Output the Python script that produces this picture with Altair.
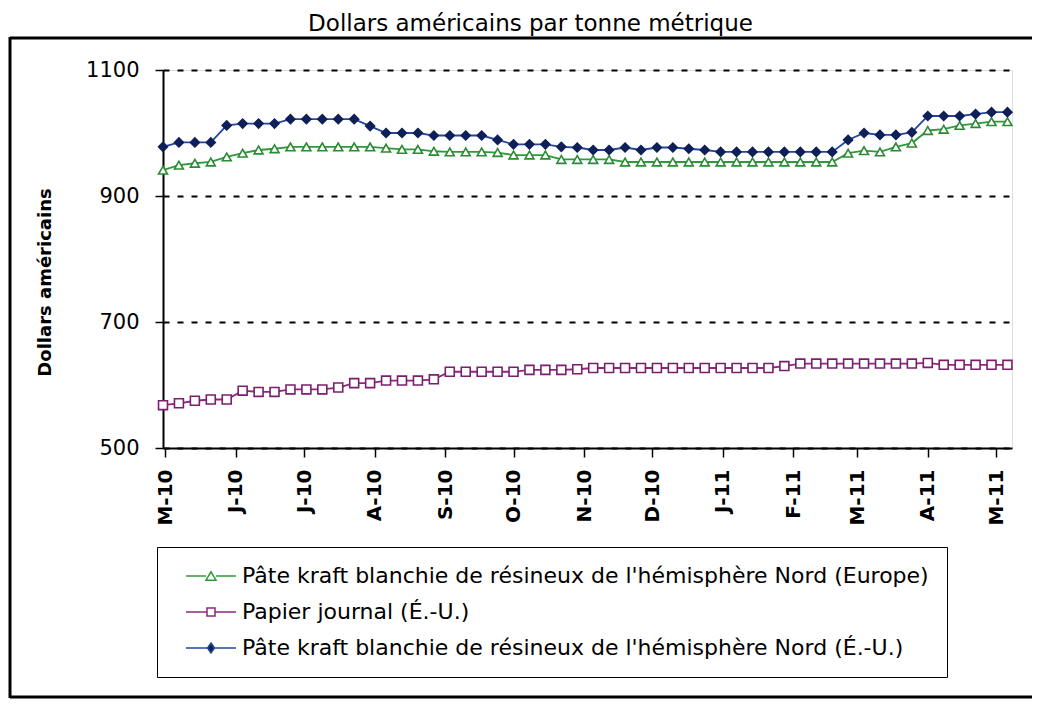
import altair as alt
import pandas as pd

# ---- data (weekly, 30 Apr 2010 -> 6 May 2011) ----
start_date = "2010-04-30"
n_weeks = 54

series_names = [
    "Pâte kraft blanchie de résineux de l'hémisphère Nord (Europe)",
    "Papier journal (É.-U.)",
    "Pâte kraft blanchie de résineux de l'hémisphère Nord (É.-U.)",
]

nbsk_europe = [941, 949, 952, 954, 962, 968, 973, 975, 978, 978,
               978, 978, 978, 978, 976, 974, 974, 971, 970, 970,
               970, 969, 965, 965, 965, 958, 958, 958, 958, 954,
               954, 954, 954, 954, 954, 954, 954, 954, 954, 954,
               954, 954, 954, 968, 972, 970, 978, 984, 1004, 1006,
               1012, 1015, 1018, 1018]

newsprint_us = [568, 571, 575, 577, 577, 591, 589, 589, 593, 593,
                593, 596, 603, 603, 607, 607, 607, 609, 621, 621,
                621, 621, 621, 624, 624, 624, 625, 627, 627, 627,
                627, 627, 627, 627, 627, 627, 627, 627, 627, 630,
                634, 634, 634, 634, 634, 634, 634, 634, 635, 632,
                632, 632, 632, 632]

nbsk_us = [978, 985, 985, 985, 1012, 1015, 1015, 1015, 1022, 1022,
           1022, 1022, 1022, 1011, 1000, 1000, 1000, 996, 996, 996,
           996, 989, 982, 982, 982, 978, 977, 973, 973, 977,
           973, 977, 977, 975, 973, 970, 970, 970, 970, 970,
           970, 970, 970, 989, 1000, 997, 997, 1001, 1027, 1027,
           1027, 1030, 1033, 1033]

month_initials = ["J", "F", "M", "A", "M", "J", "J", "A", "S", "O", "N", "D"]
y_ticks = [500, 700, 900, 1100]

line_colors = ["#2f9a3c", "#8a2a7c", "#2446a0"]
marker_strokes = ["#2a8a36", "#7a1f6c", "#0f1f58"]
marker_fills = ["white", "white", "#0f1f58"]
marker_shapes = ["triangle-up", "square", "diamond"]
legend_fills = ["white", "white", "#0f1f58"]
# legend glyphs: a 5-unit line starting at the symbol centre with the marker in its middle
legend_paths = [
    "M0,0L2.0,0M3.0,0L5,0M2.0,0.42L2.5,-0.42L3.0,0.42Z",
    "M0,0L2.1,0M2.9,0L5,0M2.1,-0.4L2.9,-0.4L2.9,0.4L2.1,0.4Z",
    "M0,0L2.15,0M2.85,0L5,0M2.5,-0.5L2.85,0L2.5,0.5L2.15,0Z",
]

dates = pd.date_range(start_date, periods=n_weeks, freq="7D")
rows = []
for name, vals in zip(series_names, [nbsk_europe, newsprint_us, nbsk_us]):
    for d, v in zip(dates, vals):
        rows.append({"date": d.strftime("%Y-%m-%d"), "series": name, "value": v})
df = pd.DataFrame(rows)

FONT = "DejaVu Sans"

month_values = [alt.DateTime(year=2010 + (4 + k) // 12, month=(4 + k) % 12 + 1, date=1, utc=True)
                for k in range(13)]

x_enc = alt.X(
    "date:T",
    scale=alt.Scale(type="utc",
                    domain=[alt.DateTime(year=2010, month=4, date=30, utc=True),
                            alt.DateTime(year=2011, month=5, date=8, utc=True)]),
    axis=alt.Axis(
        values=month_values,
        labelExpr="%s[utcmonth(datum.value)] + '-' + utcFormat(datum.value, '%%y')" % str(month_initials),
        labelAngle=270, labelAlign="right", labelBaseline="middle",
        labelFont=FONT, labelFontSize=20, labelFontWeight="bold", labelColor="black",
        labelPadding=12, tickSize=9, tickColor="black", tickWidth=1.5,
        domainColor="black", domainWidth=2, grid=False, title=None, labelFlush=False,
    ),
)
y_enc = alt.Y(
    "value:Q",
    scale=alt.Scale(domain=[500, 1100], nice=False, zero=False),
    axis=alt.Axis(
        values=y_ticks, format="d", title="Dollars américains",
        titleFont=FONT, titleFontSize=18, titleFontWeight="bold", titleColor="black",
        titleX=-118, titleY=212, titleAngle=270, titleAlign="center", titleBaseline="middle",
        labelFont=FONT, labelFontSize=21, labelColor="black", labelPadding=16,
        tickSize=8, tickColor="black", tickWidth=1.5,
        domainColor="black", domainWidth=2,
        grid=True, gridColor="black", gridDash=[6, 8], gridWidth=2,
    ),
)

base = alt.Chart(df)

lines = base.mark_line(strokeWidth=1.8).encode(
    x=x_enc, y=y_enc,
    color=alt.Color("series:N", scale=alt.Scale(domain=series_names, range=line_colors), legend=None),
)

points = base.mark_point(filled=True, opacity=1, strokeWidth=1.6, size=80).encode(
    x=x_enc, y=y_enc,
    stroke=alt.Stroke("series:N", scale=alt.Scale(domain=series_names, range=marker_strokes), legend=None),
    fill=alt.Fill("series:N", scale=alt.Scale(domain=series_names, range=marker_fills), legend=None),
    shape=alt.Shape("series:N", scale=alt.Scale(domain=series_names, range=marker_shapes), legend=None),
)

leg = alt.Legend(
    title=None, orient="none", legendX=-6, legendY=477,
    strokeColor="black", padding=18, fillColor="white",
    symbolSize=400, symbolStrokeWidth=1.5, symbolType="circle",
    labelFont=FONT, labelFontSize=22, labelColor="black", labelOffset=45,
    rowPadding=14, labelLimit=1000,
)

legend_layer = base.transform_filter("false").mark_point(filled=True, opacity=1).encode(
    stroke=alt.Stroke("series:N", scale=alt.Scale(domain=series_names, range=line_colors), legend=leg),
    fill=alt.Fill("series:N", scale=alt.Scale(domain=series_names, range=legend_fills), legend=leg),
    shape=alt.Shape("series:N", scale=alt.Scale(domain=series_names, range=legend_paths), legend=leg),
)

# outer chart-area frame (left, top, bottom edges; right edge lies beyond the picture)
frame_src = alt.Chart(pd.DataFrame({"k": [0]}))
frame_top = frame_src.mark_rule(color="black", strokeWidth=3).encode(
    x=alt.value(-153), x2=alt.value(869), y=alt.value(-32))
frame_left = frame_src.mark_rule(color="black", strokeWidth=3).encode(
    x=alt.value(-153), y=alt.value(-33), y2=alt.value(628))
frame_bottom = frame_src.mark_rule(color="black", strokeWidth=3).encode(
    x=alt.value(-153), x2=alt.value(869), y=alt.value(627))

chart = alt.layer(frame_top, frame_left, frame_bottom, lines, points, legend_layer).resolve_scale(
    color="independent", stroke="independent", fill="independent", shape="independent"
).properties(
    width=849, height=378,
    title=alt.TitleParams("Dollars américains par tonne métrique", font=FONT, fontSize=23,
                          fontWeight="normal", color="black", anchor="middle", dx=-57,
                          offset=0, frame="group"),
    autosize=alt.AutoSizeParams(type="none"),
    padding={"left": 155, "top": 62, "right": 21, "bottom": 251},
).configure_view(stroke=None).configure(background="white")

chart.save("out.html", embed_options={"renderer": "svg", "actions": False})
